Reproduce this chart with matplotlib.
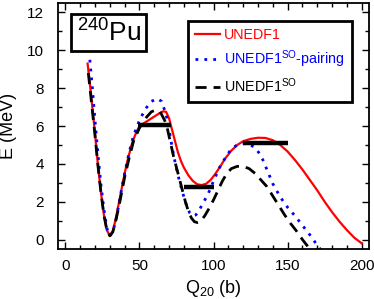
import matplotlib
matplotlib.use("Agg")
import matplotlib.pyplot as plt
from matplotlib.ticker import MultipleLocator

plt.rcParams['font.family'] = ['Liberation Sans', 'DejaVu Sans']
plt.rcParams['mathtext.fontset'] = 'custom'
plt.rcParams['mathtext.rm'] = 'Liberation Sans'
plt.rcParams['mathtext.it'] = 'Liberation Sans'

# UNEDF1 (red solid)
q_red = [15, 17, 20, 22, 24, 26, 28, 30, 32, 34, 36, 38, 40, 42, 45, 48, 50, 53, 56,
         60, 63, 66, 68, 70, 72, 74, 76, 78, 80, 83, 86, 89, 92, 95, 98, 101, 104, 108,
         112, 116, 120, 125, 130, 135, 140, 145, 150, 155, 160, 165, 170, 175, 180, 185,
         190, 195, 200]
e_red = [9.3, 7.9, 5.6, 3.9, 2.5, 1.3, 0.5, 0.2, 0.45, 1.1, 1.9, 2.7, 3.5, 4.2, 5.1, 5.7,
         6.0, 6.15, 6.3, 6.5, 6.65, 6.78, 6.75, 6.4, 5.8, 5.2, 4.6, 4.15, 3.8, 3.4, 3.1,
         2.92, 2.88, 2.95, 3.15, 3.45, 3.8, 4.3, 4.7, 5.0, 5.2, 5.32, 5.38, 5.37, 5.25,
         5.0, 4.65, 4.2, 3.7, 3.15, 2.6, 2.0, 1.45, 0.95, 0.5, 0.1, -0.2]

# UNEDF1^SO-pairing (blue dotted)
q_blue = [16.5, 18, 20, 22, 24, 26, 28, 30, 32, 34, 36, 38, 40, 43, 46, 50, 54, 58, 62,
          65, 68, 70, 72, 74, 76, 78, 80, 82, 84, 86, 88, 90, 93, 96, 100, 104, 107, 112,
          116, 120, 124, 128, 132, 136, 140, 145, 150, 155, 160, 165, 170, 172]
e_blue = [9.5, 8.2, 6.3, 4.5, 2.9, 1.6, 0.6, 0.2, 0.4, 1.0, 1.8, 2.7, 3.5, 4.6, 5.5, 6.3,
          6.9, 7.3, 7.45, 7.3, 6.6, 5.8, 4.9, 4.1, 3.4, 2.8, 2.25, 1.75, 1.4, 1.25, 1.3,
          1.5, 1.95, 2.35, 3.1, 3.8, 4.2, 4.8, 5.0, 5.07, 5.05, 4.85, 4.45, 3.7, 2.95,
          2.25, 1.7, 1.25, 0.75, 0.25, -0.3, -0.5]

# UNEDF1^SO (black dashed)
q_blk = [15.5, 17, 20, 22, 24, 26, 28, 30, 32, 34, 36, 38, 40, 43, 46, 50, 54, 58, 61,
         64, 67, 69, 71, 73, 75, 77, 79, 81, 83, 85, 87, 89, 91, 94, 97, 100, 103, 106,
         109, 112, 116, 120, 124, 128, 132, 136, 140, 144, 148, 152, 156, 160, 163, 165]
e_blk = [8.8, 7.7, 5.5, 3.9, 2.5, 1.3, 0.5, 0.2, 0.4, 1.0, 1.7, 2.5, 3.3, 4.3, 5.2, 5.9,
         6.4, 6.75, 6.85, 6.75, 6.3, 5.8, 5.1, 4.4, 3.8, 3.2, 2.6, 2.0, 1.5, 1.15, 0.95,
         0.9, 0.95, 1.25, 1.65, 2.1, 2.6, 3.1, 3.5, 3.75, 3.87, 3.87, 3.75, 3.5, 3.15,
         2.8, 2.3, 1.8, 1.3, 0.85, 0.45, 0.0, -0.3, -0.5]

# experimental barrier / isomer levels
bar_x0 = [49, 80, 120]
bar_x1 = [71, 100, 150]
bar_e = [6.05, 2.8, 5.1]

fig = plt.figure(figsize=(3.74, 2.99), dpi=100)
ax = fig.add_axes([0.155, 0.167, 0.832, 0.823])

ax.plot(q_red, e_red, color='#ff0000', lw=1.6, label='UNEDF1')
ax.plot(q_blue, e_blue, color='#0000ff', lw=2.0, ls=(0, (1, 2.2)),
        label=r'UNEDF1$\mathregular{^{SO}}$-pairing')
ax.plot(q_blk, e_blk, color='black', lw=2.0, ls=(0, (4, 2.5)),
        label=r'UNEDF1$\mathregular{^{SO}}$')
ax.hlines(bar_e, bar_x0, bar_x1, colors='black', lw=3.2)

ax.set_xlim(-5, 205)
ax.set_ylim(-0.5, 12.5)
ax.xaxis.set_major_locator(MultipleLocator(50))
ax.xaxis.set_minor_locator(MultipleLocator(10))
ax.yaxis.set_major_locator(MultipleLocator(2))
ax.yaxis.set_minor_locator(MultipleLocator(1))
ax.tick_params(which='both', direction='in', top=True, right=True, labelsize=11, width=1)
ax.tick_params(which='major', length=5)
ax.tick_params(which='minor', length=3)
ax.tick_params(axis='y', which='major', pad=10)
ax.tick_params(axis='x', which='major', pad=7)
for s in ax.spines.values():
    s.set_linewidth(1.3)

ax.set_xlabel(r'Q$\mathregular{_{20}}$ (b)', fontsize=13, labelpad=4)
ax.set_ylabel('E (MeV)', fontsize=13, labelpad=7)

ax.text(0.06, 0.935, r'$\mathregular{^{240}}$Pu', transform=ax.transAxes, fontsize=19,
        va='top', ha='left',
        bbox=dict(boxstyle='square,pad=0.2', fc='white', ec='black', lw=2))

leg = ax.legend(loc='upper right', bbox_to_anchor=(0.945, 0.927), borderaxespad=0,
                fontsize=10.3, handlelength=1.7, handletextpad=0.33, borderpad=0.5,
                labelspacing=0.45, fancybox=False, framealpha=1, edgecolor='black')
leg.get_frame().set_linewidth(2)
for txt, c in zip(leg.get_texts(), ['#ff0000', '#0000ff', 'black']):
    txt.set_color(c)

fig.savefig('out.png', dpi=100)
